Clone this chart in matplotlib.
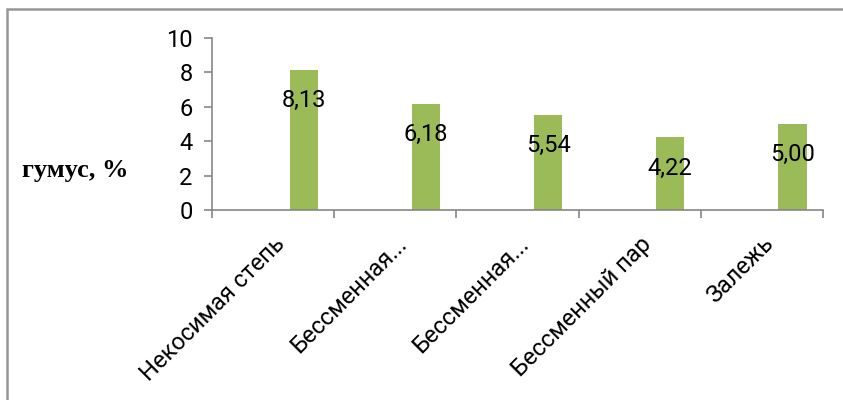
import matplotlib
matplotlib.use('Agg')
import matplotlib.pyplot as plt
from matplotlib.patches import Rectangle
import numpy as np

CATEGORIES = ['Некосимая степь', 'Бессменная...', 'Бессменная...', 'Бессменный пар', 'Залежь']
HUMUS = [8.13, 6.18, 5.54, 4.22, 5.00]
VALUE_LABELS = ['8,13', '6,18', '5,54', '4,22', '5,00']
Y_TICKS = [0, 2, 4, 6, 8, 10]

BAR_COLOR = '#9bbb59'
AXIS_COLOR = '#868686'

plt.rcParams['font.family'] = ['Roboto', 'Noto Sans', 'DejaVu Sans']

W, H = 843, 400
fig = plt.figure(figsize=(W / 100, H / 100), dpi=100)
ax = fig.add_axes([212 / W, 1 - 210 / H, (823 - 212) / W, (210 - 38) / H])

x = np.arange(len(CATEGORIES))
ax.bar(x + 0.25, HUMUS, width=0.23, color=BAR_COLOR, zorder=2)

for xi, v, lab in zip(x, HUMUS, VALUE_LABELS):
    ax.annotate(lab, (xi + 0.25, v), xytext=(0, -22), textcoords='offset points',
                ha='center', va='center', fontsize=17, color='black', zorder=3)

ax.set_xlim(-0.5, len(CATEGORIES) - 0.5)
ax.set_ylim(0, 10)
ax.set_yticks(Y_TICKS)
ax.set_yticklabels([str(t) for t in Y_TICKS], fontsize=17)

ax.set_xticks(x)
ax.set_xticklabels(CATEGORIES, rotation=45, ha='right', rotation_mode='anchor', fontsize=17)
ax.tick_params(axis='x', which='major', length=0, pad=16)
ax.set_xticks(np.arange(len(CATEGORIES) + 1) - 0.5, minor=True)
ax.tick_params(axis='x', which='minor', length=6, color=AXIS_COLOR, width=1.2)
ax.tick_params(axis='y', length=6, color=AXIS_COLOR, width=1.2, pad=8)

for side in ['top', 'right']:
    ax.spines[side].set_visible(False)
for side in ['left', 'bottom']:
    ax.spines[side].set_color(AXIS_COLOR)
    ax.spines[side].set_linewidth(1.2)

fig.text(22 / W, 1 - 170 / H, 'гумус, %', family='Liberation Serif', fontweight='bold',
         fontsize=19, ha='left', va='center')

fig.patches.append(Rectangle((7 / W, -0.1), 1.2, 1 - 9 / H + 0.1, transform=fig.transFigure,
                             fill=False, edgecolor='#969696', linewidth=1.8))

fig.savefig('out.png', dpi=100)
